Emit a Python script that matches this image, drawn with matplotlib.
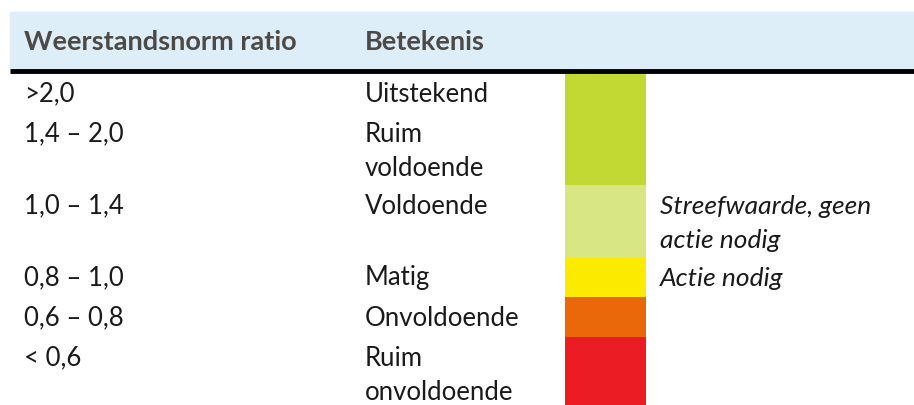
import matplotlib.pyplot as plt

# Tabel: weerstandsnorm ratio en betekenis
ratios = ['>2,0', '1,4 – 2,0', '1,0 – 1,4', '0,8 – 1,0', '0,6 – 0,8', '< 0,6']
betekenis = ['Uitstekend', 'Ruim\nvoldoende', 'Voldoende', 'Matig', 'Onvoldoende', 'Ruim\nonvoldoende']
opmerking = ['', '', 'Streefwaarde, geen\nactie nodig', 'Actie nodig', '', '']
kleuren = ['#C2D833', '#C2D833', '#D8E684', '#FCEB00', '#EA670A', '#EC1C24']
koppen = ['Weerstandsnorm ratio', 'Betekenis']

plt.rcParams['font.family'] = ['Lato', 'DejaVu Sans']
fs = 18.5

fig = plt.figure(figsize=(9.14, 4.05), dpi=100)
ax = fig.add_axes([0, 0, 1, 1])
ax.set_xlim(0, 914)
ax.set_ylim(405, 0)
ax.axis('off')

# kopregel
ax.add_patch(plt.Rectangle((10, 12), 904, 57, color='#DDEEF8', zorder=0))
ax.plot([10, 914], [70.5, 70.5], color='black', lw=3.5, solid_capstyle='butt')
for x, t in zip([24, 365], koppen):
    ax.text(x, 42, t, fontsize=19.5, fontweight='bold', color='#4d4a45', va='center')

# regels: hoogte volgt uit het aantal tekstregels
regel = 35
tops = []
y = 73
for b, o in zip(betekenis, opmerking):
    n = max(b.count('\n'), o.count('\n')) + 1
    h = 40 + (n - 1) * 32
    tops.append((y, h))
    y += h

ax.bar([605] * len(kleuren), [h for _, h in tops], bottom=[t for t, _ in tops],
       width=81, color=kleuren, align='center', zorder=1)

for (t, h), r, b, o in zip(tops, ratios, betekenis, opmerking):
    ax.text(24, t + 21, r, fontsize=fs, color='#1a1a1a', va='center')
    for i, line in enumerate(b.split('\n')):
        ax.text(365, t + 21 + i * regel, line, fontsize=fs, color='#1a1a1a', va='center')
    for i, line in enumerate(o.split('\n')):
        if line:
            ax.text(660, t + 21 + i * regel, line, fontsize=19, style='italic',
                    color='#1a1a1a', va='center')

fig.savefig('out.png', dpi=100)
